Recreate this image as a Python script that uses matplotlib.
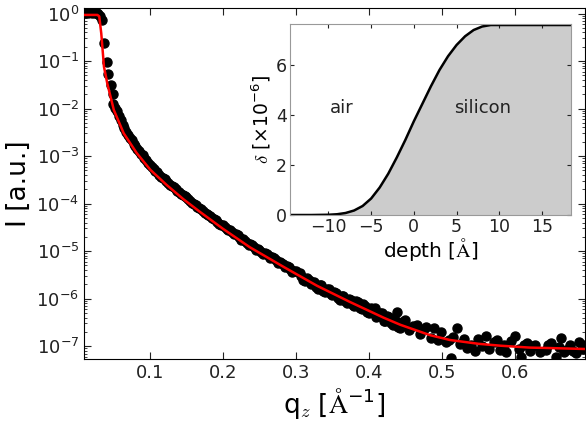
import numpy as np
import matplotlib
matplotlib.use("Agg")
import matplotlib.pyplot as plt
from matplotlib.ticker import LogLocator, NullFormatter, FixedLocator

plt.rcParams['font.family'] = ['DejaVu Sans']
plt.rcParams['mathtext.default'] = 'regular'
plt.rcParams['xtick.direction'] = 'in'
plt.rcParams['ytick.direction'] = 'in'

# measured reflectivity, q in 1/Angstrom, log10 of intensity
q_meas = [0.011, 0.013, 0.015, 0.017, 0.019, 0.021, 0.023, 0.025, 0.027, 0.029,
          0.031, 0.0343, 0.037, 0.0415, 0.0428, 0.0465, 0.049,
          0.050, 0.055, 0.060, 0.065, 0.070, 0.075, 0.080, 0.085, 0.090, 0.095,
          0.100, 0.105, 0.110, 0.115, 0.120, 0.125, 0.130, 0.135, 0.140, 0.145,
          0.150, 0.155, 0.160, 0.165, 0.170, 0.175, 0.180, 0.185, 0.190, 0.195,
          0.200, 0.205, 0.210, 0.215, 0.220, 0.225, 0.230, 0.235, 0.240, 0.245,
          0.250, 0.255, 0.260, 0.265, 0.270, 0.275, 0.280, 0.285, 0.290, 0.295,
          0.300, 0.305, 0.310, 0.315, 0.320, 0.325, 0.330, 0.335, 0.340, 0.345,
          0.350, 0.355, 0.360, 0.365, 0.370, 0.375, 0.380, 0.385, 0.390, 0.395,
          0.400, 0.405, 0.408, 0.410, 0.415, 0.420, 0.425, 0.430, 0.435, 0.439,
          0.440, 0.445, 0.450, 0.455, 0.460, 0.466, 0.470, 0.475, 0.478, 0.485,
          0.489, 0.495, 0.499, 0.505, 0.510, 0.513, 0.515, 0.521, 0.525, 0.530,
          0.535, 0.540, 0.545, 0.550, 0.555, 0.561, 0.565, 0.571, 0.575, 0.579,
          0.585, 0.588, 0.595, 0.600, 0.605, 0.609, 0.612, 0.616, 0.620, 0.625,
          0.628, 0.635, 0.642, 0.645, 0.650, 0.656, 0.660, 0.663, 0.667, 0.670,
          0.675, 0.680, 0.684, 0.688, 0.692, 0.696,
          0.0525, 0.0575, 0.0625, 0.0675, 0.0725, 0.0775, 0.0825, 0.0875, 0.0925,
          0.0975, 0.1025, 0.1075, 0.1125, 0.1175, 0.1225, 0.1275, 0.1325, 0.1375,
          0.1425, 0.1475, 0.1525, 0.1575, 0.1625, 0.1675, 0.1725, 0.1775, 0.1825,
          0.1875, 0.1925, 0.1975, 0.2025, 0.2075, 0.2125, 0.2175, 0.2225, 0.2275,
          0.2325, 0.2375, 0.2425, 0.2475, 0.2525, 0.2575, 0.2625, 0.2675, 0.2725,
          0.2775, 0.2825, 0.2875, 0.2925, 0.2975,
          0.3075, 0.3125, 0.3175, 0.3225, 0.3275, 0.3325, 0.3375, 0.3425, 0.3475,
          0.3525, 0.3575, 0.3625, 0.3675, 0.3725, 0.3775, 0.3825, 0.3875, 0.3925,
          0.3975, 0.4025, 0.4125, 0.4175, 0.4225, 0.4275, 0.4325, 0.4375, 0.4425,
          0.4475]
logI_meas = [0.02, 0.03, 0.02, 0.03, 0.03, 0.02, 0.03, 0.02, 0.02, 0.00,
             -0.05, -0.14, -0.62, -1.01, -1.27, -1.50, -1.70,
             -1.90, -2.06, -2.25, -2.41, -2.55, -2.67, -2.79, -2.89, -2.98, -3.09,
             -3.18, -3.27, -3.34, -3.43, -3.49, -3.56, -3.62, -3.70, -3.75, -3.82,
             -3.87, -3.95, -4.00, -4.08, -4.12, -4.20, -4.23, -4.31, -4.34, -4.42,
             -4.45, -4.53, -4.56, -4.64, -4.67, -4.76, -4.78, -4.87, -4.88, -4.97,
             -4.98, -5.06, -5.07, -5.15, -5.15, -5.25, -5.24, -5.34, -5.33, -5.43,
             -5.42, -5.47, -5.60, -5.56, -5.70, -5.65, -5.79, -5.72, -5.86, -5.80,
             -5.93, -5.88, -6.02, -5.95, -6.09, -6.02, -6.16, -6.08, -6.22, -6.15,
             -6.31, -6.22, -6.20, -6.38, -6.30, -6.46, -6.37, -6.52, -6.42, -6.28,
             -6.60, -6.50, -6.45, -6.66, -6.58, -6.56, -6.74, -6.63, -6.60, -6.82,
             -6.62, -6.86, -6.71, -6.92, -6.87, -7.25, -6.80, -6.62, -6.95, -6.85,
             -7.04, -6.97, -7.10, -6.85, -7.00, -6.79, -7.05, -6.92, -6.88, -7.08,
             -6.98, -7.12, -6.90, -6.79, -7.05, -7.23, -6.98, -6.94, -7.10, -7.00,
             -6.98, -7.12, -7.08, -6.97, -6.94, -7.23, -7.02, -6.83, -7.12, -7.08,
             -6.98, -7.10, -7.15, -6.92, -7.05, -6.98,
             -1.98, -2.16, -2.34, -2.49, -2.62, -2.74, -2.85, -2.95, -3.05,
             -3.15, -3.24, -3.31, -3.39, -3.46, -3.53, -3.60, -3.66, -3.73,
             -3.79, -3.85, -3.91, -3.98, -4.04, -4.10, -4.16, -4.22, -4.27,
             -4.33, -4.38, -4.44, -4.49, -4.55, -4.59, -4.65, -4.71, -4.75,
             -4.82, -4.86, -4.92, -4.95, -5.01, -5.04, -5.10, -5.13, -5.19,
             -5.22, -5.28, -5.31, -5.37, -5.41,
             -5.52, -5.62, -5.60, -5.66, -5.75, -5.72, -5.83, -5.80, -5.90,
             -5.86, -5.99, -5.94, -6.06, -6.01, -6.13, -6.06, -6.20, -6.12,
             -6.28, -6.20, -6.36, -6.30, -6.47, -6.39, -6.55, -6.46, -6.62,
             -6.52]

# fitted reflectivity curve
q_fit = [0.0096, 0.020, 0.028, 0.0305, 0.0333, 0.037, 0.0415, 0.0505, 0.064,
         0.082, 0.1006, 0.123, 0.146, 0.169, 0.200, 0.237, 0.284, 0.329, 0.374,
         0.420, 0.443, 0.484, 0.511, 0.550, 0.580, 0.620, 0.648, 0.697]
logI_fit = [-0.03, -0.03, -0.03, -0.06, -0.42, -1.12, -1.47, -2.03, -2.52,
            -2.94, -3.29, -3.61, -3.91, -4.18, -4.53, -4.92, -5.34, -5.73, -6.07,
            -6.40, -6.55, -6.77, -6.87, -6.95, -6.99, -7.03, -7.04, -7.06]

# density profile across the interface
depth = [-14.5, -12, -10, -9, -8, -7, -6, -5, -4, -3, -2, -1, 0, 1, 2, 3, 4,
         5, 6, 7, 8, 9, 10, 12, 15, 18.4]
delta = [0.0, 0.0, 0.01, 0.03, 0.08, 0.18, 0.36, 0.66, 1.1, 1.65, 2.3, 3.0,
         3.75, 4.45, 5.15, 5.8, 6.35, 6.8, 7.15, 7.4, 7.54, 7.6, 7.6, 7.6, 7.6, 7.6]

fig = plt.figure(figsize=(5.86, 4.25), dpi=100)
ax = fig.add_axes([0.1433, 0.1553, 0.855, 0.8259])

ax.semilogy(q_meas, 10 ** np.array(logI_meas), 'o', color='black', ms=6.5,
            mec='black', zorder=2)
ax.semilogy(q_fit, 10 ** np.array(logI_fit), '-', color='red', lw=1.8, zorder=3)

ax.set_xlim(0.0096, 0.696)
ax.set_ylim(10 ** -7.27, 10 ** 0.116)
ax.set_xticks([0.1, 0.2, 0.3, 0.4, 0.5, 0.6])
ax.yaxis.set_major_locator(FixedLocator([10.0 ** k for k in range(-7, 1)]))
ax.yaxis.set_minor_locator(LogLocator(base=10, subs=np.arange(2, 10), numticks=20))
ax.yaxis.set_minor_formatter(NullFormatter())
ax.tick_params(which='both', top=True, right=True, labelsize=13, colors='#222222')
ax.tick_params(which='major', length=5)
ax.tick_params(which='minor', length=2.5)
ax.set_ylabel('I [a.u.]', fontsize=19)
ax.yaxis.set_label_coords(-0.104, 0.5)
ax.set_xlabel(r'q$_{\mathit{z}}$ [$\mathrm{\AA}^{-1}$]', fontsize=19,
              math_fontfamily='cm', labelpad=3)

# inset with the interface profile
ins = fig.add_axes([0.4949, 0.4941, 0.4795, 0.4494])
ins.fill_between(depth, delta, 0, color='#cccccc', lw=0)
ins.plot(depth, delta, color='black', lw=1.8)
ins.set_xlim(-14.5, 18.4)
ins.set_ylim(0, 7.64)
ins.set_xticks([-10, -5, 0, 5, 10, 15])
ins.set_yticks([0, 2, 4, 6])
ins.tick_params(top=True, right=True, labelsize=12.5, length=3, pad=2,
                colors='#222222')
for sp in ins.spines.values():
    sp.set_color('#999999')
ins.text(-8.4, 4.28, 'air', fontsize=13, ha='center', va='center', color='#222222')
ins.text(8.1, 4.28, 'silicon', fontsize=13, ha='center', va='center',
         color='#222222')
ins.set_xlabel(r'depth [$\mathrm{\AA}$]', fontsize=14.5, math_fontfamily='cm',
               labelpad=0)
ins.set_ylabel(r'$\mathit{\delta}$ [$\times 10^{-6}$]', fontsize=13.5,
               math_fontfamily='cm', labelpad=2)

fig.savefig('out.png', dpi=100)
